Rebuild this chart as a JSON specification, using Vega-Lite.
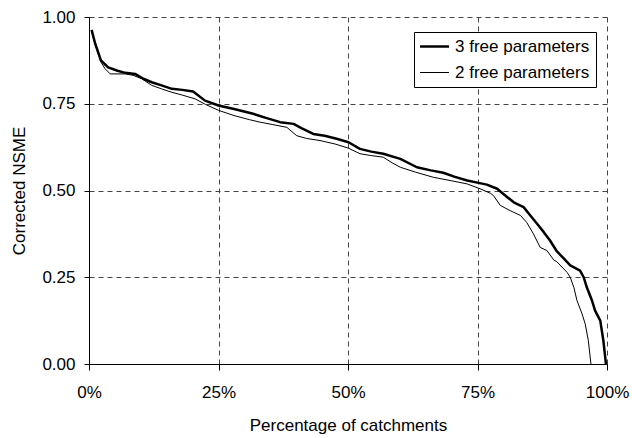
{
  "$schema": "https://vega.github.io/schema/vega-lite/v6.json",
  "width": 518,
  "height": 347,
  "autosize": "none",
  "padding": {"left": 89, "top": 17, "right": 25, "bottom": 74},
  "background": "white",
  "config": {
    "font": "Liberation Sans",
    "view": {"stroke": null},
    "axis": {
      "grid": true,
      "gridDash": [5, 4],
      "gridColor": "#444444",
      "gridOpacity": 1,
      "gridWidth": 1,
      "domainColor": "black",
      "domainWidth": 1,
      "tickColor": "black",
      "tickWidth": 1,
      "labelColor": "black",
      "labelFont": "Liberation Sans",
      "labelFontSize": 17,
      "titleFont": "Liberation Sans",
      "titleFontSize": 17,
      "titleFontWeight": "normal",
      "titleColor": "black"
    },
    "legend": {
      "labelFont": "Liberation Sans",
      "labelFontSize": 17,
      "labelColor": "black"
    }
  },
  "data": {
    "values": [
      {"series": "3 free parameters", "pct": 0.5, "nsme": 0.963},
      {"series": "3 free parameters", "pct": 1.2, "nsme": 0.923},
      {"series": "3 free parameters", "pct": 2.3, "nsme": 0.875},
      {"series": "3 free parameters", "pct": 3.7, "nsme": 0.855},
      {"series": "3 free parameters", "pct": 5.5, "nsme": 0.845},
      {"series": "3 free parameters", "pct": 7.0, "nsme": 0.839},
      {"series": "3 free parameters", "pct": 8.9, "nsme": 0.836},
      {"series": "3 free parameters", "pct": 10.5, "nsme": 0.822},
      {"series": "3 free parameters", "pct": 12.1, "nsme": 0.812},
      {"series": "3 free parameters", "pct": 14.0, "nsme": 0.803},
      {"series": "3 free parameters", "pct": 16.0, "nsme": 0.793},
      {"series": "3 free parameters", "pct": 18.0, "nsme": 0.79},
      {"series": "3 free parameters", "pct": 20.1, "nsme": 0.785},
      {"series": "3 free parameters", "pct": 22.4, "nsme": 0.759},
      {"series": "3 free parameters", "pct": 25.0, "nsme": 0.745},
      {"series": "3 free parameters", "pct": 28.0, "nsme": 0.735},
      {"series": "3 free parameters", "pct": 31.7, "nsme": 0.721},
      {"series": "3 free parameters", "pct": 34.0, "nsme": 0.71},
      {"series": "3 free parameters", "pct": 36.9, "nsme": 0.697},
      {"series": "3 free parameters", "pct": 39.5, "nsme": 0.692},
      {"series": "3 free parameters", "pct": 41.0, "nsme": 0.68},
      {"series": "3 free parameters", "pct": 43.3, "nsme": 0.663},
      {"series": "3 free parameters", "pct": 45.5, "nsme": 0.658},
      {"series": "3 free parameters", "pct": 47.8, "nsme": 0.649},
      {"series": "3 free parameters", "pct": 50.1, "nsme": 0.639},
      {"series": "3 free parameters", "pct": 52.3, "nsme": 0.62},
      {"series": "3 free parameters", "pct": 54.5, "nsme": 0.612},
      {"series": "3 free parameters", "pct": 56.8, "nsme": 0.606},
      {"series": "3 free parameters", "pct": 60.1, "nsme": 0.591},
      {"series": "3 free parameters", "pct": 63.3, "nsme": 0.567},
      {"series": "3 free parameters", "pct": 66.0, "nsme": 0.558},
      {"series": "3 free parameters", "pct": 68.4, "nsme": 0.551},
      {"series": "3 free parameters", "pct": 70.5, "nsme": 0.54},
      {"series": "3 free parameters", "pct": 73.0, "nsme": 0.529},
      {"series": "3 free parameters", "pct": 75.2, "nsme": 0.522},
      {"series": "3 free parameters", "pct": 76.8, "nsme": 0.517},
      {"series": "3 free parameters", "pct": 78.8, "nsme": 0.505},
      {"series": "3 free parameters", "pct": 80.0, "nsme": 0.49},
      {"series": "3 free parameters", "pct": 82.0, "nsme": 0.466},
      {"series": "3 free parameters", "pct": 83.9, "nsme": 0.452},
      {"series": "3 free parameters", "pct": 85.2, "nsme": 0.428},
      {"series": "3 free parameters", "pct": 86.5, "nsme": 0.404},
      {"series": "3 free parameters", "pct": 87.8, "nsme": 0.38},
      {"series": "3 free parameters", "pct": 89.0, "nsme": 0.356},
      {"series": "3 free parameters", "pct": 90.3, "nsme": 0.325},
      {"series": "3 free parameters", "pct": 91.6, "nsme": 0.305},
      {"series": "3 free parameters", "pct": 92.9, "nsme": 0.284},
      {"series": "3 free parameters", "pct": 94.8, "nsme": 0.269},
      {"series": "3 free parameters", "pct": 95.5, "nsme": 0.25},
      {"series": "3 free parameters", "pct": 96.1, "nsme": 0.221},
      {"series": "3 free parameters", "pct": 97.1, "nsme": 0.183},
      {"series": "3 free parameters", "pct": 97.7, "nsme": 0.154},
      {"series": "3 free parameters", "pct": 98.7, "nsme": 0.125},
      {"series": "3 free parameters", "pct": 99.3, "nsme": 0.067},
      {"series": "3 free parameters", "pct": 99.8, "nsme": 0.0},
      {"series": "2 free parameters", "pct": 0.5, "nsme": 0.96},
      {"series": "2 free parameters", "pct": 1.2, "nsme": 0.92},
      {"series": "2 free parameters", "pct": 2.3, "nsme": 0.87},
      {"series": "2 free parameters", "pct": 3.1, "nsme": 0.851},
      {"series": "2 free parameters", "pct": 4.1, "nsme": 0.836},
      {"series": "2 free parameters", "pct": 7.0, "nsme": 0.836},
      {"series": "2 free parameters", "pct": 8.5, "nsme": 0.832},
      {"series": "2 free parameters", "pct": 10.2, "nsme": 0.822},
      {"series": "2 free parameters", "pct": 12.1, "nsme": 0.803},
      {"series": "2 free parameters", "pct": 14.0, "nsme": 0.793},
      {"series": "2 free parameters", "pct": 16.0, "nsme": 0.783},
      {"series": "2 free parameters", "pct": 18.0, "nsme": 0.775},
      {"series": "2 free parameters", "pct": 20.5, "nsme": 0.764},
      {"series": "2 free parameters", "pct": 22.5, "nsme": 0.748},
      {"series": "2 free parameters", "pct": 25.0, "nsme": 0.731},
      {"series": "2 free parameters", "pct": 28.0, "nsme": 0.716},
      {"series": "2 free parameters", "pct": 31.0, "nsme": 0.704},
      {"series": "2 free parameters", "pct": 33.0, "nsme": 0.697},
      {"series": "2 free parameters", "pct": 35.5, "nsme": 0.69},
      {"series": "2 free parameters", "pct": 38.2, "nsme": 0.682},
      {"series": "2 free parameters", "pct": 40.1, "nsme": 0.658},
      {"series": "2 free parameters", "pct": 42.0, "nsme": 0.65},
      {"series": "2 free parameters", "pct": 44.6, "nsme": 0.644},
      {"series": "2 free parameters", "pct": 47.5, "nsme": 0.634},
      {"series": "2 free parameters", "pct": 50.1, "nsme": 0.622},
      {"series": "2 free parameters", "pct": 52.3, "nsme": 0.606},
      {"series": "2 free parameters", "pct": 54.3, "nsme": 0.601},
      {"series": "2 free parameters", "pct": 56.8, "nsme": 0.596},
      {"series": "2 free parameters", "pct": 58.5, "nsme": 0.58},
      {"series": "2 free parameters", "pct": 60.1, "nsme": 0.567},
      {"series": "2 free parameters", "pct": 63.0, "nsme": 0.553},
      {"series": "2 free parameters", "pct": 66.5, "nsme": 0.538},
      {"series": "2 free parameters", "pct": 70.0, "nsme": 0.528},
      {"series": "2 free parameters", "pct": 73.0, "nsme": 0.519},
      {"series": "2 free parameters", "pct": 75.5, "nsme": 0.505},
      {"series": "2 free parameters", "pct": 77.5, "nsme": 0.492},
      {"series": "2 free parameters", "pct": 78.1, "nsme": 0.485},
      {"series": "2 free parameters", "pct": 79.4, "nsme": 0.457},
      {"series": "2 free parameters", "pct": 81.3, "nsme": 0.442},
      {"series": "2 free parameters", "pct": 83.3, "nsme": 0.428},
      {"series": "2 free parameters", "pct": 84.5, "nsme": 0.408},
      {"series": "2 free parameters", "pct": 85.8, "nsme": 0.375},
      {"series": "2 free parameters", "pct": 87.1, "nsme": 0.336},
      {"series": "2 free parameters", "pct": 88.4, "nsme": 0.327},
      {"series": "2 free parameters", "pct": 89.7, "nsme": 0.3},
      {"series": "2 free parameters", "pct": 90.3, "nsme": 0.295},
      {"series": "2 free parameters", "pct": 92.3, "nsme": 0.264},
      {"series": "2 free parameters", "pct": 92.9, "nsme": 0.25},
      {"series": "2 free parameters", "pct": 93.6, "nsme": 0.221},
      {"series": "2 free parameters", "pct": 94.2, "nsme": 0.183},
      {"series": "2 free parameters", "pct": 95.2, "nsme": 0.144},
      {"series": "2 free parameters", "pct": 95.8, "nsme": 0.115},
      {"series": "2 free parameters", "pct": 96.4, "nsme": 0.067},
      {"series": "2 free parameters", "pct": 96.9, "nsme": 0.0}
    ]
  },
  "mark": {"type": "line", "clip": true, "strokeJoin": "round"},
  "encoding": {
    "x": {
      "field": "pct",
      "type": "quantitative",
      "scale": {"domain": [0, 100], "nice": false},
      "axis": {
        "values": [0, 25, 50, 75, 100],
        "labelExpr": "datum.value + '%'",
        "labelFlush": false,
        "tickSize": 6,
        "labelPadding": 14,
        "title": "Percentage of catchments",
        "titleY": 66,
        "titleBaseline": "alphabetic"
      }
    },
    "y": {
      "field": "nsme",
      "type": "quantitative",
      "scale": {"domain": [0, 1], "nice": false},
      "axis": {
        "values": [0, 0.25, 0.5, 0.75, 1],
        "format": ".2f",
        "tickSize": 5,
        "labelPadding": 9,
        "title": "Corrected NSME",
        "titleX": -65,
        "titleY": 173.5,
        "titleAngle": 270,
        "titleAlign": "center",
        "titleBaseline": "alphabetic"
      }
    },
    "color": {
      "field": "series",
      "type": "nominal",
      "scale": {"domain": ["3 free parameters", "2 free parameters"], "range": ["black", "black"]},
      "legend": {
        "title": null,
        "orient": "none",
        "legendX": 325,
        "legendY": 15,
        "strokeColor": "black",
        "fillColor": "white",
        "padding": 6,
        "symbolType": "M-2,0H2",
        "symbolSize": 210,
        "symbolOffset": 6,
        "labelOffset": 12,
        "rowPadding": 8
      }
    },
    "strokeWidth": {
      "field": "series",
      "type": "nominal",
      "scale": {"domain": ["3 free parameters", "2 free parameters"], "range": [2.5, 1]},
      "legend": {
        "title": null,
        "orient": "none",
        "legendX": 325,
        "legendY": 15,
        "strokeColor": "black",
        "fillColor": "white",
        "padding": 6,
        "symbolType": "M-2,0H2",
        "symbolSize": 210,
        "symbolOffset": 6,
        "labelOffset": 12,
        "rowPadding": 8
      }
    }
  }
}
